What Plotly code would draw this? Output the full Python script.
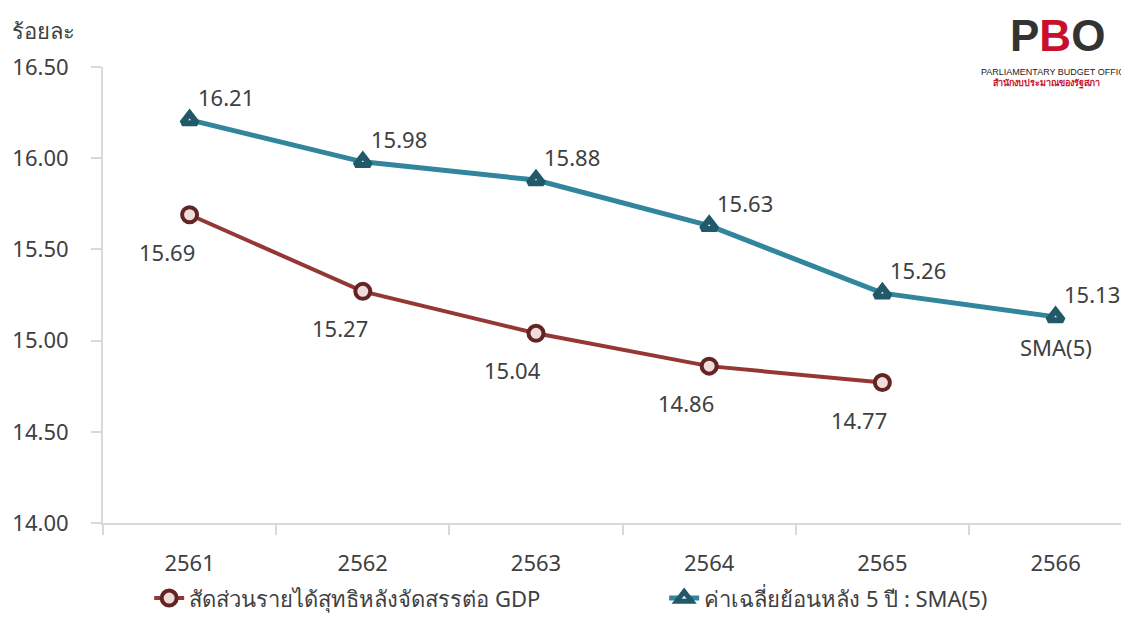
import plotly.graph_objects as go

years = ["2561", "2562", "2563", "2564", "2565", "2566"]
ratio_years = ["2561", "2562", "2563", "2564", "2565"]
ratio_vals = [15.69, 15.27, 15.04, 14.86, 14.77]
sma_vals = [16.21, 15.98, 15.88, 15.63, 15.26, 15.13]
ytick_vals = [14.0, 14.5, 15.0, 15.5, 16.0, 16.5]
ytick_text = ["14.00", "14.50", "15.00", "15.50", "16.00", "16.50"]
name_ratio = "สัดส่วนรายได้สุทธิหลังจัดสรรต่อ GDP"
name_sma = "ค่าเฉลี่ยย้อนหลัง 5 ปี : SMA(5)"

FONT = "Noto Sans, DejaVu Sans, sans-serif"
TXT = "#404040"
RED = "#953735"
RED_D = "#632523"
TEAL = "#31859C"
TEAL_D = "#215968"

fig = go.Figure()
fig.add_trace(go.Scatter(
    x=ratio_years, y=ratio_vals, name=name_ratio, mode="lines+markers",
    line=dict(color=RED, width=4),
    marker=dict(symbol="circle", size=15, color="#F2DCDB", line=dict(color=RED_D, width=4)),
))
fig.add_trace(go.Scatter(
    x=years, y=sma_vals, name=name_sma, mode="lines+markers",
    line=dict(color=TEAL, width=5),
    marker=dict(symbol="triangle-up", size=13, color="#DAEEF3", line=dict(color=TEAL_D, width=6)),
))

annotations = []
for i, v in enumerate(ratio_vals):
    annotations.append(dict(x=years.index(ratio_years[i]), y=v, text=f"{v:.2f}", showarrow=False,
                            xshift=-23, yshift=-37, font=dict(size=22, color=TXT, family=FONT)))
for i, v in enumerate(sma_vals):
    annotations.append(dict(x=i, y=v, text=f"{v:.2f}", showarrow=False,
                            xshift=36, yshift=23, font=dict(size=22, color=TXT, family=FONT)))
annotations.append(dict(x=len(years) - 1, y=sma_vals[-1], text="SMA(5)", showarrow=False,
                        yshift=-30, font=dict(size=22, color=TXT, family=FONT)))
annotations.append(dict(xref="paper", yref="paper", x=-0.091, y=1.082, xanchor="left", yanchor="middle",
                        text="ร้อยละ", showarrow=False, font=dict(size=22, color=TXT, family=FONT)))
# logo (as text)
annotations.append(dict(xref="paper", yref="paper", x=0.93, y=1.07, xanchor="center", yanchor="middle",
                        text="<b><span style='color:#333333'>P</span><span style='color:#C8102E'>B</span><span style='color:#333333'>O</span></b>",
                        showarrow=False, font=dict(size=44, family="Liberation Sans, sans-serif")))
annotations.append(dict(xref="paper", yref="paper", x=0.926, y=0.99, xanchor="center", yanchor="middle",
                        text="PARLIAMENTARY BUDGET OFFIC", showarrow=False,
                        font=dict(size=9, color="#222222", family="Liberation Sans, sans-serif")))
annotations.append(dict(xref="paper", yref="paper", x=0.92, y=0.966, xanchor="center", yanchor="middle",
                        text="<b>สำนักงบประมาณของรัฐสภา</b>", showarrow=False,
                        font=dict(size=9, color="#C8102E", family=FONT)))

fig.update_layout(
    width=1121, height=611,
    margin=dict(l=95, r=0, t=59, b=96, autoexpand=False),
    paper_bgcolor="white", plot_bgcolor="white",
    font=dict(family=FONT, size=22, color=TXT),
    showlegend=True,
    legend=dict(orientation="h", x=0.045, xanchor="left", y=-0.165, yanchor="middle",
                font=dict(size=22, color=TXT, family=FONT), entrywidth=470, bgcolor="rgba(0,0,0,0)"),
    annotations=annotations,
)
fig.update_xaxes(
    type="category", categoryorder="array", categoryarray=years,
    range=[-0.5, 5.424], showline=True, linecolor="#D9D9D9", linewidth=2,
    ticks="outside", tickson="boundaries", ticklen=10, tickcolor="#D9D9D9", tickwidth=2,
    showgrid=False, zeroline=False, ticklabelstandoff=20,
    tickfont=dict(size=22, color=TXT, family=FONT),
)
fig.update_yaxes(
    range=[14.0, 16.5], tickvals=ytick_vals, ticktext=ytick_text,
    showline=True, linecolor="#D9D9D9", linewidth=2,
    ticks="outside", ticklen=10, tickcolor="#D9D9D9", tickwidth=2,
    showgrid=False, zeroline=False, ticklabelstandoff=18,
    tickfont=dict(size=22, color=TXT, family=FONT),
)

fig.write_html("out.html")
